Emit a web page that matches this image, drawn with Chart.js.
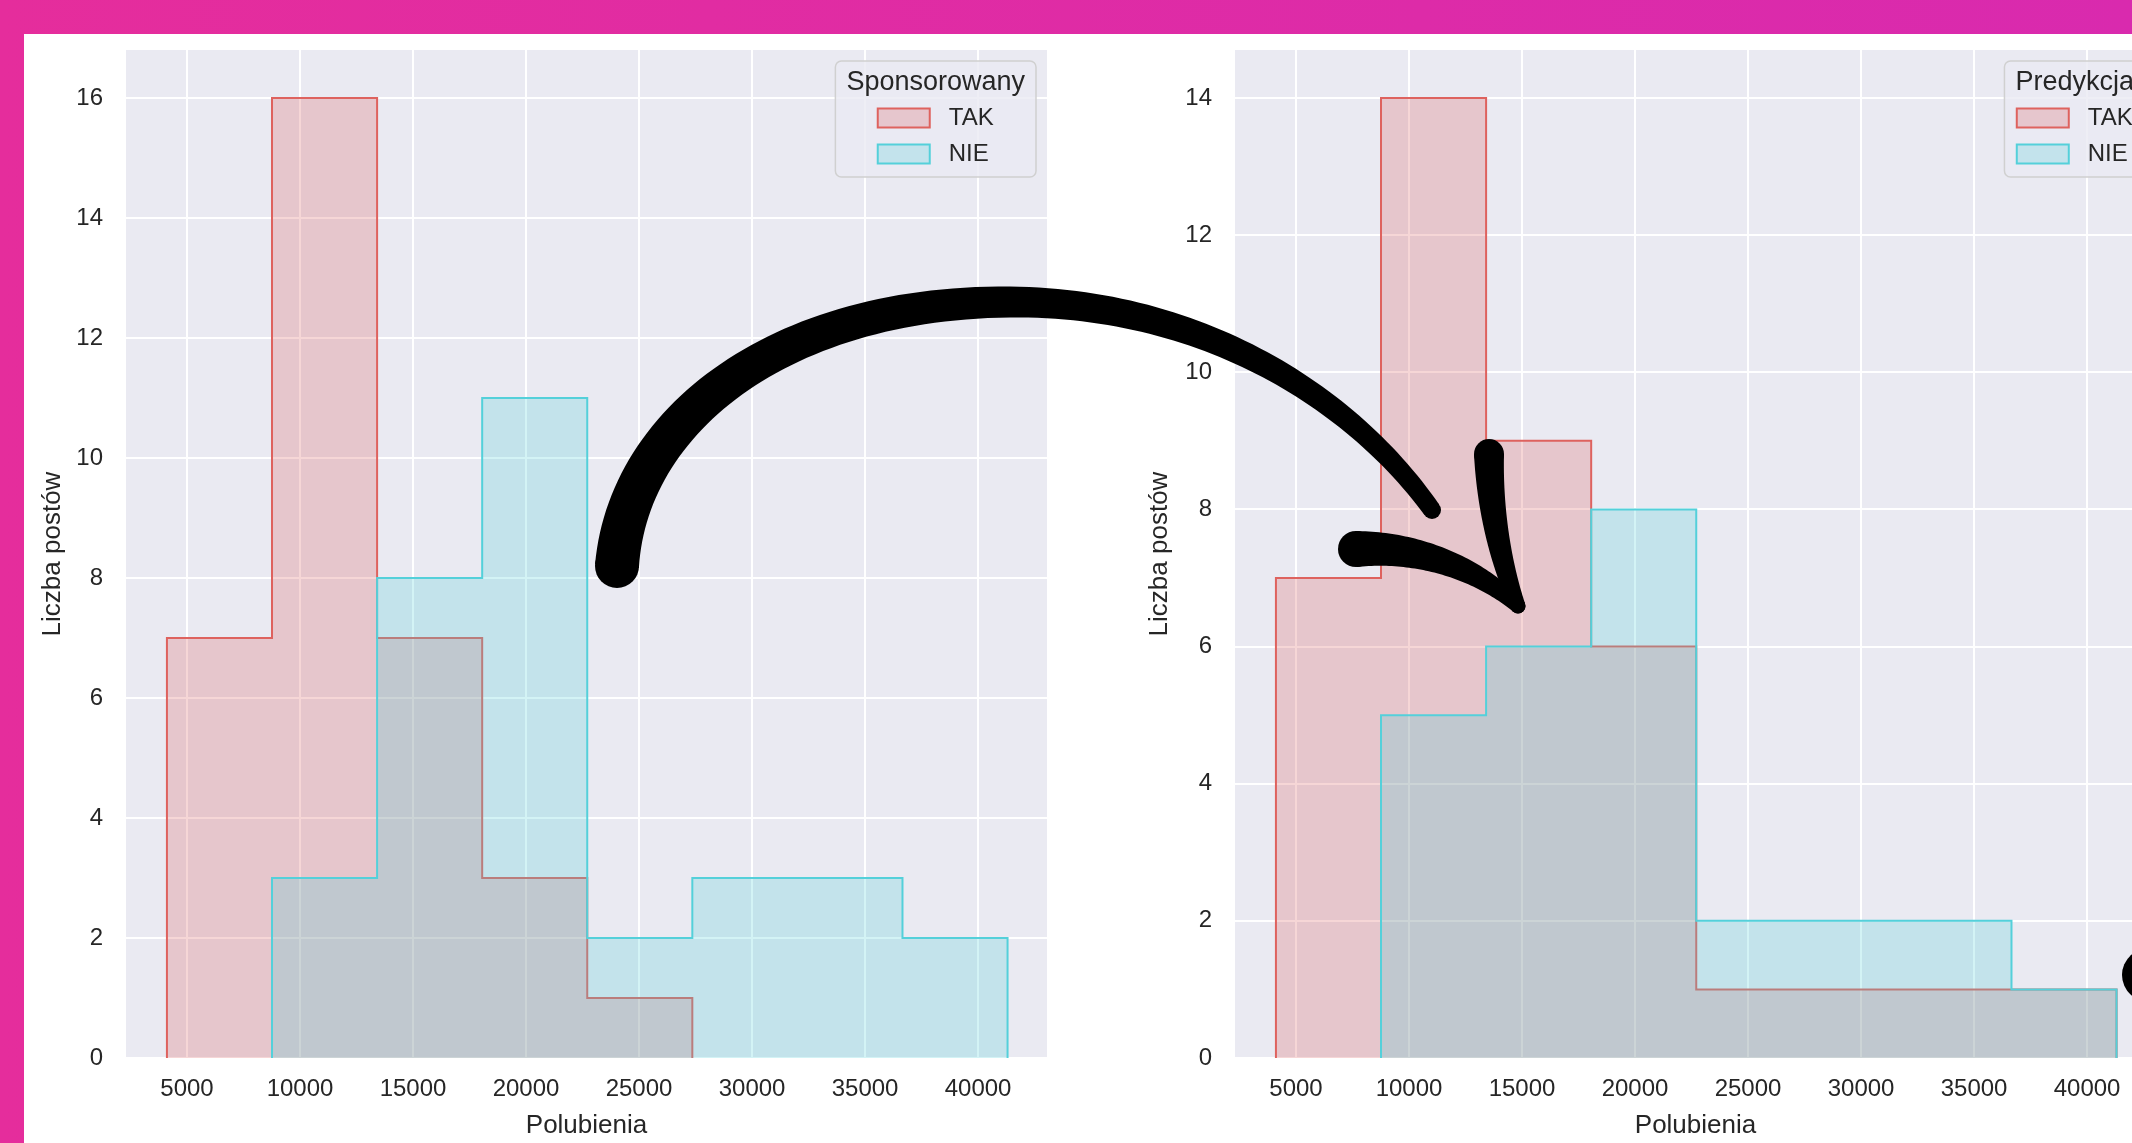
<!DOCTYPE html>
<html>
<head>
<meta charset="utf-8">
<script src="https://cdn.jsdelivr.net/npm/chart.js@4.4.0/dist/chart.umd.min.js"></script>
<style>
  html, body { margin: 0; padding: 0; overflow: hidden; }
  body { width: 2132px; height: 1143px; position: relative;
         background: linear-gradient(90deg, #e52d9c 0%, #d92aae 100%); }
  #panel { position: absolute; left: 24px; top: 34px; width: 2108px; height: 1109px;
           background: #fff; overflow: hidden; }
  #leftChart { position: absolute; left: 0; top: 0; }
  #rightChart { position: absolute; left: 1100px; top: 0; }
  #arrowLayer { position: absolute; left: 0; top: 0; z-index: 5; }
</style>
</head>
<body>
<div id="panel">
  <canvas id="leftChart" width="1100" height="1109"></canvas>
  <canvas id="rightChart" width="1100" height="1109"></canvas>
  <canvas id="arrowLayer" width="2108" height="1109"></canvas>
</div>
<script>
// histogram bins (Polubienia) shared by both plots
const binEdges = [4111, 8760, 13410, 18059, 22708, 27357, 32007, 36656, 41305];
const likesTicks = [5000, 10000, 15000, 20000, 25000, 30000, 35000, 40000];
const likesMin = 2300;
const likesMax = 43050;

// left: grouped by "Sponsorowany"
const takSponsored = [7, 16, 7, 3, 1, 0, 0, 0];
const nieSponsored = [0, 3, 8, 11, 2, 3, 3, 2];
const countTicksLeft = [0, 2, 4, 6, 8, 10, 12, 14, 16];

// right: grouped by "Predykcja"
const takPredicted = [7, 14, 9, 6, 1, 1, 1, 1];
const niePredicted = [0, 5, 6, 8, 2, 2, 2, 1];
const countTicksRight = [0, 2, 4, 6, 8, 10, 12, 14];

const FONT = '"Liberation Sans", Arial, sans-serif';
const TEXT = '#262626';
Chart.defaults.font.family = FONT;
Chart.defaults.color = TEXT;

const takLine = 'rgb(222, 98, 94)';
const takFill = 'rgba(218, 90, 90, 0.25)';
const nieLine = 'rgb(84, 208, 218)';
const nieFill = 'rgba(80, 208, 216, 0.25)';

// outline of a step histogram, leading / trailing empty bins dropped
function stepPoints(counts) {
    let first = counts.findIndex(c => c > 0);
    let last = counts.length - 1;
    while (counts[last] === 0) last--;
    const pts = [{x: binEdges[first], y: 0}];
    for (let i = first; i <= last; i++) pts.push({x: binEdges[i], y: counts[i]});
    pts.push({x: binEdges[last + 1], y: 0});
    return pts;
}

const plotBg = {
    id: 'plotBg',
    beforeDraw(chart) {
        const {ctx, chartArea: a} = chart;
        ctx.save();
        ctx.fillStyle = '#eaeaf2';
        ctx.fillRect(a.left, a.top, a.right - a.left, a.bottom - a.top);
        ctx.restore();
    }
};

// matplotlib-like legend box in the upper right corner
const boxLegend = {
    id: 'boxLegend',
    afterDraw(chart, args, opts) {
        const ctx = chart.ctx, a = chart.chartArea;
        const sets = chart.data.datasets;
        ctx.save();
        ctx.font = '27px ' + FONT;
        const titleW = ctx.measureText(opts.title).width;
        ctx.font = '24px ' + FONT;
        const labW = Math.max(...sets.map(d => ctx.measureText(d.label).width));
        const swW = 52, swH = 19, gap = 19, pad = 11;
        const entW = swW + gap + labW;
        const innerW = Math.max(titleW, entW);
        const w = innerW + 2 * pad, h = 116;
        const x = a.right - 11 - w, y = a.top + 11;

        ctx.beginPath();
        ctx.roundRect(x, y, w, h, 6);
        ctx.fillStyle = 'rgba(234, 234, 242, 0.8)';
        ctx.fill();
        ctx.strokeStyle = '#d0d0d0';
        ctx.lineWidth = 1.5;
        ctx.stroke();

        ctx.fillStyle = TEXT;
        ctx.textBaseline = 'middle';
        ctx.textAlign = 'center';
        ctx.font = '27px ' + FONT;
        ctx.fillText(opts.title, x + w / 2, y + 22);

        const ex = x + pad + (innerW - entW) / 2;
        ctx.font = '24px ' + FONT;
        ctx.textAlign = 'left';
        sets.forEach((d, i) => {
            const cy = y + 57 + i * 36;
            ctx.fillStyle = d.backgroundColor;
            ctx.fillRect(ex, cy - swH / 2, swW, swH);
            ctx.strokeStyle = d.borderColor;
            ctx.lineWidth = 2;
            ctx.strokeRect(ex, cy - swH / 2, swW, swH);
            ctx.fillStyle = TEXT;
            ctx.fillText(d.label, ex + swW + gap, cy);
        });
        ctx.restore();
    }
};

function createHistogram(id, tak, nie, yTicks, yMax, legendTitle, yAxisWidth, rightPad, yTitlePad) {
    const ctx = document.getElementById(id).getContext('2d');
    return new Chart(ctx, {
        type: 'line',
        data: {
            datasets: [
                {
                    label: 'TAK',
                    data: stepPoints(tak),
                    borderColor: takLine,
                    backgroundColor: takFill,
                    borderWidth: 2,
                    stepped: true,
                    fill: 'origin',
                    pointRadius: 0,
                    order: 2
                },
                {
                    label: 'NIE',
                    data: stepPoints(nie),
                    borderColor: nieLine,
                    backgroundColor: nieFill,
                    borderWidth: 2,
                    stepped: true,
                    fill: 'origin',
                    pointRadius: 0,
                    order: 1
                }
            ]
        },
        options: {
            responsive: false,
            animation: false,
            layout: { padding: { top: 16, right: rightPad, left: 0, bottom: 0 } },
            plugins: {
                legend: { display: false },
                tooltip: { enabled: false },
                boxLegend: { title: legendTitle }
            },
            scales: {
                x: {
                    type: 'linear',
                    min: likesMin,
                    max: likesMax,
                    afterBuildTicks: s => { s.ticks = likesTicks.map(v => ({value: v})); },
                    afterFit: s => { s.height = 85; s.paddingLeft = 0; s.paddingRight = 0; },
                    grid: { color: '#ffffff', lineWidth: 2, drawTicks: false },
                    border: { display: false },
                    ticks: {
                        font: { size: 24 },
                        padding: 17,
                        maxRotation: 0,
                        autoSkip: false,
                        callback: v => String(v)
                    },
                    title: {
                        display: true,
                        text: 'Polubienia',
                        font: { size: 26 },
                        padding: { top: 0, bottom: 2 }
                    }
                },
                y: {
                    min: 0,
                    max: yMax,
                    afterBuildTicks: s => { s.ticks = yTicks.map(v => ({value: v})); },
                    afterFit: s => { s.width = yAxisWidth; s.paddingTop = 0; s.paddingBottom = 0; },
                    grid: { color: '#ffffff', lineWidth: 2, drawTicks: false },
                    border: { display: false },
                    ticks: {
                        font: { size: 24 },
                        padding: 23,
                        callback: v => String(v)
                    },
                    title: {
                        display: true,
                        text: 'Liczba postów',
                        font: { size: 26 },
                        padding: { top: yTitlePad, bottom: 0 }
                    }
                }
            }
        },
        plugins: [plotBg, boxLegend]
    });
}

createHistogram('leftChart', takSponsored, nieSponsored, countTicksLeft, 16.8, 'Sponsorowany', 102, 77, 13);
createHistogram('rightChart', takPredicted, niePredicted, countTicksRight, 14.7, 'Predykcja', 111, 68, 20);

// hand drawn arrow on top of both plots (page coordinates)
function bez(p, t) {
    const u = 1 - t;
    return [u*u*u*p[0][0] + 3*u*u*t*p[1][0] + 3*u*t*t*p[2][0] + t*t*t*p[3][0],
            u*u*u*p[0][1] + 3*u*u*t*p[1][1] + 3*u*t*t*p[2][1] + t*t*t*p[3][1]];
}

function brush(ctx, curves, w0, w1) {
    const pts = [];
    curves.forEach((c, ci) => {
        for (let i = ci ? 1 : 0; i <= 60; i++) pts.push(bez(c, i / 60));
    });
    const n = pts.length, left = [], right = [];
    for (let i = 0; i < n; i++) {
        const a = pts[Math.max(i - 1, 0)], b = pts[Math.min(i + 1, n - 1)];
        const dx = b[0] - a[0], dy = b[1] - a[1];
        const len = Math.hypot(dx, dy) || 1;
        const w = (w0 + (w1 - w0) * i / (n - 1)) / 2;
        left.push([pts[i][0] - dy / len * w, pts[i][1] + dx / len * w]);
        right.push([pts[i][0] + dy / len * w, pts[i][1] - dx / len * w]);
    }
    ctx.beginPath();
    left.forEach((p, i) => i ? ctx.lineTo(p[0], p[1]) : ctx.moveTo(p[0], p[1]));
    right.reverse().forEach(p => ctx.lineTo(p[0], p[1]));
    ctx.closePath();
    ctx.fill();
    ctx.beginPath(); ctx.arc(pts[0][0], pts[0][1], w0 / 2, 0, 2 * Math.PI); ctx.fill();
    ctx.beginPath(); ctx.arc(pts[n - 1][0], pts[n - 1][1], w1 / 2, 0, 2 * Math.PI); ctx.fill();
}

const actx = document.getElementById('arrowLayer').getContext('2d');
actx.translate(-24, -34);
actx.fillStyle = '#000';
brush(actx, [
    [[617, 566], [628, 420], [780, 302], [1010, 302]],
    [[1010, 302], [1200, 302], [1350, 395], [1432, 510]]
], 44, 18);
brush(actx, [[[1489, 454], [1490, 520], [1505, 575], [1518, 606]]], 30, 15);
brush(actx, [[[1356, 549], [1420, 546], [1480, 570], [1518, 606]]], 36, 15);
actx.beginPath();
actx.ellipse(2152, 975, 30, 28, 0, 0, 2 * Math.PI);
actx.fill();
</script>
</body>
</html>
